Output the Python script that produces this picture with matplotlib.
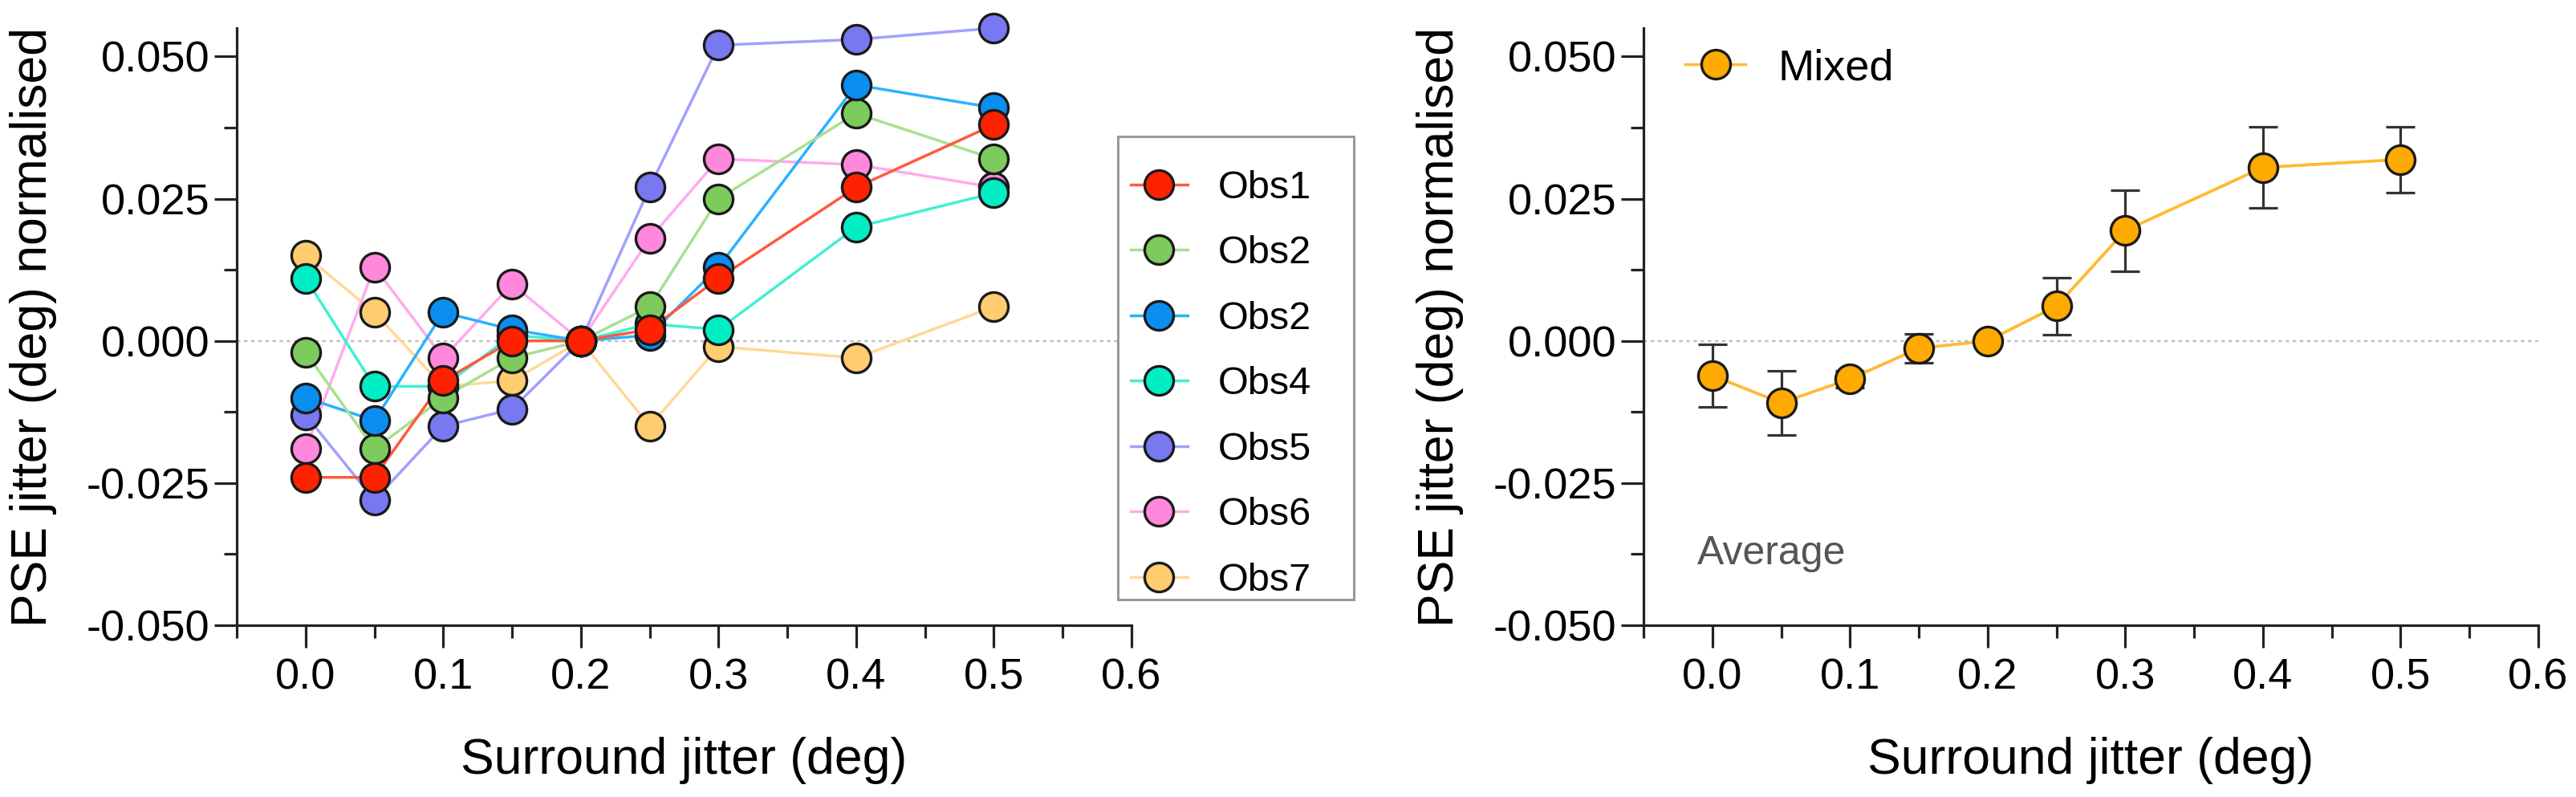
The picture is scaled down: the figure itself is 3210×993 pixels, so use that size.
import matplotlib
matplotlib.use("Agg")
import matplotlib.pyplot as plt
from matplotlib.patches import Rectangle
from matplotlib.ticker import MultipleLocator, FormatStrFormatter

plt.rcParams['font.family'] = ['Liberation Sans', 'DejaVu Sans']
plt.rcParams['axes.unicode_minus'] = False

# surround jitter levels (deg)
jitter = [0.0, 0.05, 0.1, 0.15, 0.2, 0.25, 0.3, 0.4, 0.5]

# individual observers, PSE jitter normalised (deg)
obs_labels = ["Obs1", "Obs2", "Obs2", "Obs4", "Obs5", "Obs6", "Obs7"]
obs1 = [-0.024, -0.024, -0.007, 0.000, 0.0, 0.002, 0.011, 0.027, 0.038]
obs2 = [-0.002, -0.019, -0.010, -0.003, 0.0, 0.006, 0.025, 0.040, 0.032]
obs2b = [-0.010, -0.014, 0.005, 0.002, 0.0, 0.001, 0.013, 0.045, 0.041]
obs4 = [0.011, -0.008, -0.008, 0.001, 0.0, 0.003, 0.002, 0.020, 0.026]
obs5 = [-0.013, -0.028, -0.015, -0.012, 0.0, 0.027, 0.052, 0.053, 0.055]
obs6 = [-0.019, 0.013, -0.003, 0.010, 0.0, 0.018, 0.032, 0.031, 0.027]
obs7 = [0.015, 0.005, -0.008, -0.007, 0.0, -0.015, -0.001, -0.003, 0.006]
observers = [obs1, obs2, obs2b, obs4, obs5, obs6, obs7]

marker_colors = ["#ff2200", "#7ccb5c", "#0a8ef0", "#00eec4",
                 "#7878f0", "#ff88dd", "#ffcc70"]
line_colors = ["#ff5a3c", "#a8e08e", "#2ab2ff", "#40f0d2",
               "#a0a0ff", "#ffaaee", "#ffd898"]

# average across observers with error bars
mixed_mean = [-0.0061, -0.0109, -0.0067, -0.0013, 0.0, 0.0061, 0.0194, 0.0305, 0.0319]
mixed_err = [0.0055, 0.0057, 0.0015, 0.0026, 0.0, 0.0050, 0.0071, 0.0071, 0.0058]

W, H = 3210, 993
fig = plt.figure(figsize=(W / 100, H / 100), dpi=100)
ax1 = fig.add_axes([295 / W, 1 - 779 / H, 1115 / W, 744 / H])
ax2 = fig.add_axes([2048 / W, 1 - 779 / H, 1115 / W, 744 / H])

MS = 26
LW = 2.5


def style_axes(ax):
    ax.set_xlim(-0.05, 0.6)
    ax.set_ylim(-0.05, 0.055)
    for side in ("top", "right"):
        ax.spines[side].set_visible(False)
    for side in ("left", "bottom"):
        ax.spines[side].set_linewidth(2.3)
        ax.spines[side].set_color("#222222")
    ax.xaxis.set_major_locator(MultipleLocator(0.1))
    ax.xaxis.set_minor_locator(MultipleLocator(0.05))
    ax.yaxis.set_major_locator(MultipleLocator(0.025))
    ax.yaxis.set_minor_locator(MultipleLocator(0.0125))
    ax.xaxis.set_major_formatter(FormatStrFormatter("%.1f"))
    ax.yaxis.set_major_formatter(FormatStrFormatter("%.3f"))
    ax.tick_params(which="major", length=20, width=2.3, color="#222222",
                   labelsize=39)
    ax.tick_params(which="minor", length=11.5, width=2.3, color="#222222")
    ax.tick_params(axis="x", which="major", pad=9)
    ax.tick_params(axis="y", which="major", pad=4)
    ax.axhline(0, color="#bbbbbb", lw=1.6, ls=(0, (2, 2)), zorder=1)
    ax.set_xlabel("Surround jitter (deg)", fontsize=45, va="top")
    ax.set_ylabel("PSE jitter (deg) normalised", fontsize=45)
    ax.xaxis.set_label_coords(0.5, -0.187)
    ax.yaxis.set_label_coords(-0.201, 0.5)


# left panel: individual observers
style_axes(ax1)
handles = []
for i in range(len(observers) - 1, -1, -1):
    ax1.plot(jitter, observers[i], color=line_colors[i], lw=LW, zorder=2,
             clip_on=False)
for i in [6, 5, 4, 3, 1, 2, 0]:
    ax1.plot(jitter, observers[i], ls="none", marker="o", ms=MS,
             mfc=marker_colors[i], mec="#1a1a1a", mew=2.4, zorder=3,
             clip_on=False)
for i in range(len(observers)):
    h, = ax1.plot([], [], color=line_colors[i], lw=LW, marker="o", ms=MS,
                  mfc=marker_colors[i], mec="#1a1a1a", mew=2.4)
    handles.append(h)

fig.patches.append(Rectangle((1393 / W, 1 - 747 / H), 294 / W, 577 / H,
                             transform=fig.transFigure, facecolor="white",
                             edgecolor="#999999", lw=2.2, zorder=4))
fig.legend(handles, obs_labels, loc="upper left",
           bbox_to_anchor=(1409 / W, 1 - 212 / H), frameon=False,
           fontsize=35, borderpad=0, borderaxespad=0, handlelength=1.46,
           handletextpad=0.78, labelspacing=0.75)

# right panel: average
style_axes(ax2)
ax2.errorbar(jitter, mixed_mean, yerr=mixed_err, fmt="none", ecolor="#333333",
             elinewidth=2.3, capsize=13, capthick=2.3, zorder=2)
ax2.plot(jitter, mixed_mean, color="#ffbb33", lw=LW, zorder=2.5)
mixed_handle, = ax2.plot(jitter, mixed_mean, color="#ffbb33", lw=LW, ls="-",
                         marker="o", ms=MS, mfc="#ffaa00", mec="#1a1a1a",
                         mew=2.4, zorder=3)
ax2.legend([mixed_handle], ["Mixed"], loc="center left",
           bbox_to_anchor=(2100 / W, 1 - 85 / H), bbox_transform=fig.transFigure,
           frameon=False, fontsize=39, borderpad=0, borderaxespad=0,
           handlelength=1.39, handletextpad=0.74)
ax2.text(-0.011, -0.0375, "Average", fontsize=36, color="#555555",
         ha="left", va="center")

fig.savefig("out.png", dpi=100, facecolor="white")
